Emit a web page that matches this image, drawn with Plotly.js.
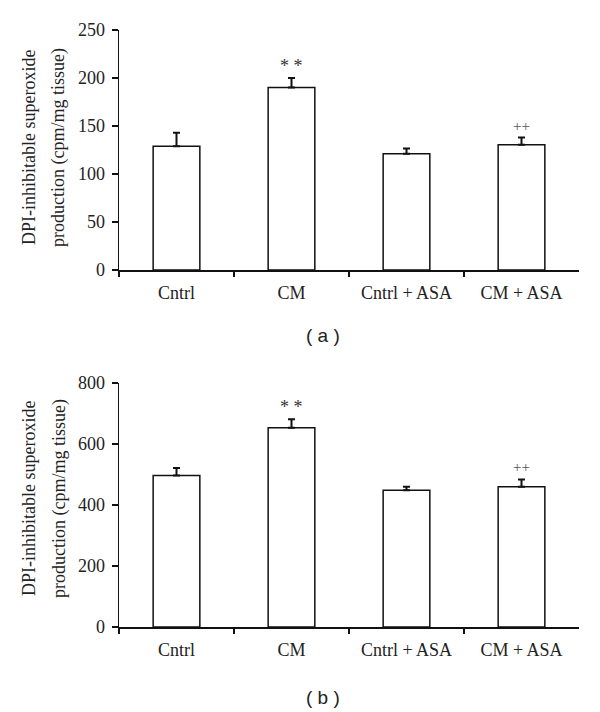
<!DOCTYPE html>
<html>
<head>
<meta charset="utf-8">
<script src="https://cdn.plot.ly/plotly-3.0.1.min.js"></script>
<style>html,body{margin:0;padding:0;background:#fff;}#chart{width:600px;height:712px;}</style>
</head>
<body>
<div id="chart"></div>
<script>
const categories = ["Cntrl", "CM", "Cntrl + ASA", "CM + ASA"];
const valuesA = [129, 190, 121, 130.5];
const errorsA = [14, 10, 5.5, 7.5];
const valuesB = [497, 653, 448, 460];
const errorsB = [24, 28, 12, 24];
const marksA = ["", "* *", "", "++"];
const marksB = ["", "* *", "", "++"];
const yTitleLines = ["DPI-inhibitable superoxide", "production (cpm/mg tissue)"];
const panelLabels = ["( a )", "( b )"];

const serif = "Liberation Serif, Times New Roman, serif";
const H = 712;

function barTrace(vals, errs, xa, ya) {
  return {
    type: "bar", x: categories, y: vals, xaxis: xa, yaxis: ya,
    width: 0.406,
    marker: {color: "#ffffff", line: {color: "#111", width: 1.5}},
    error_y: {type: "data", array: errs, arrayminus: errs.map(() => 0), symmetric: false,
              color: "#111", thickness: 2, width: 3.5},
    hoverinfo: "none", showlegend: false
  };
}

const data = [barTrace(valuesA, errorsA, "x", "y"), barTrace(valuesB, errorsB, "x2", "y2")];

function xAxis(anchor) {
  return {anchor: anchor, domain: [119/600, 579/600], type: "category", range: [-0.5, 3.5],
    showline: true, linecolor: "#111", linewidth: 1.5, ticks: "outside", tickson: "boundaries",
    ticklen: 5, tickcolor: "#111", tickwidth: 1.5, showgrid: false, zeroline: false,
    ticklabelstandoff: 6,
    tickfont: {family: serif, size: 18, color: "#222"}, fixedrange: true};
}
function yAxis(anchor, domain, range, dtick) {
  return {anchor: anchor, domain: domain, range: range, dtick: dtick,
    showline: true, linecolor: "#111", linewidth: 1.5, ticks: "outside", ticklen: 6,
    tickcolor: "#111", tickwidth: 1.5, showgrid: false, zeroline: false,
    ticklabelstandoff: 3,
    tickfont: {family: serif, size: 18, color: "#222"}, fixedrange: true};
}

const annotations = [];
function addMarks(marks, vals, errs, xr, yr) {
  marks.forEach((m, i) => {
    if (!m) return;
    const star = m.indexOf("*") >= 0;
    annotations.push({x: categories[i], y: vals[i] + errs[i], xref: xr, yref: yr, text: m,
      showarrow: false, yanchor: "bottom", yshift: star ? 0 : 2,
      font: {family: serif, size: star ? 18 : 15, color: star ? "#333" : "#555"}});
  });
}
addMarks(marksA, valuesA, errorsA, "x", "y");
addMarks(marksB, valuesB, errorsB, "x2", "y2");

// y-axis titles (two lines each)
[[148, 29, 59], [499, 29, 59]].forEach(([cy, x1, x2]) => {
  annotations.push({x: x1/600, y: 1 - cy/H, xref: "paper", yref: "paper", text: yTitleLines[0],
    textangle: -90, showarrow: false, xanchor: "center", yanchor: "middle",
    font: {family: serif, size: 18, color: "#222"}});
  annotations.push({x: x2/600, y: 1 - cy/H, xref: "paper", yref: "paper", text: yTitleLines[1],
    textangle: -90, showarrow: false, xanchor: "center", yanchor: "middle",
    font: {family: serif, size: 18, color: "#222"}});
});
// panel labels
[[335, panelLabels[0]], [697, panelLabels[1]]].forEach(([cy, t]) => {
  annotations.push({x: 323/600, y: 1 - cy/H, xref: "paper", yref: "paper", text: t,
    showarrow: false, xanchor: "center", yanchor: "middle",
    font: {family: "Liberation Sans, Arial, sans-serif", size: 19, color: "#222"}});
});

const layout = {
  width: 600, height: 712,
  margin: {l: 0, r: 0, t: 0, b: 0},
  paper_bgcolor: "#fff", plot_bgcolor: "#fff",
  xaxis: xAxis("y"),
  yaxis: yAxis("x", [1 - 270/H, 1 - 30/H], [0, 250], 50),
  xaxis2: xAxis("y2"),
  yaxis2: yAxis("x2", [1 - 627/H, 1 - 383/H], [0, 800], 200),
  annotations: annotations,
  bargap: 0.6
};

Plotly.newPlot("chart", data, layout, {staticPlot: true, displayModeBar: false});
</script>
</body>
</html>
